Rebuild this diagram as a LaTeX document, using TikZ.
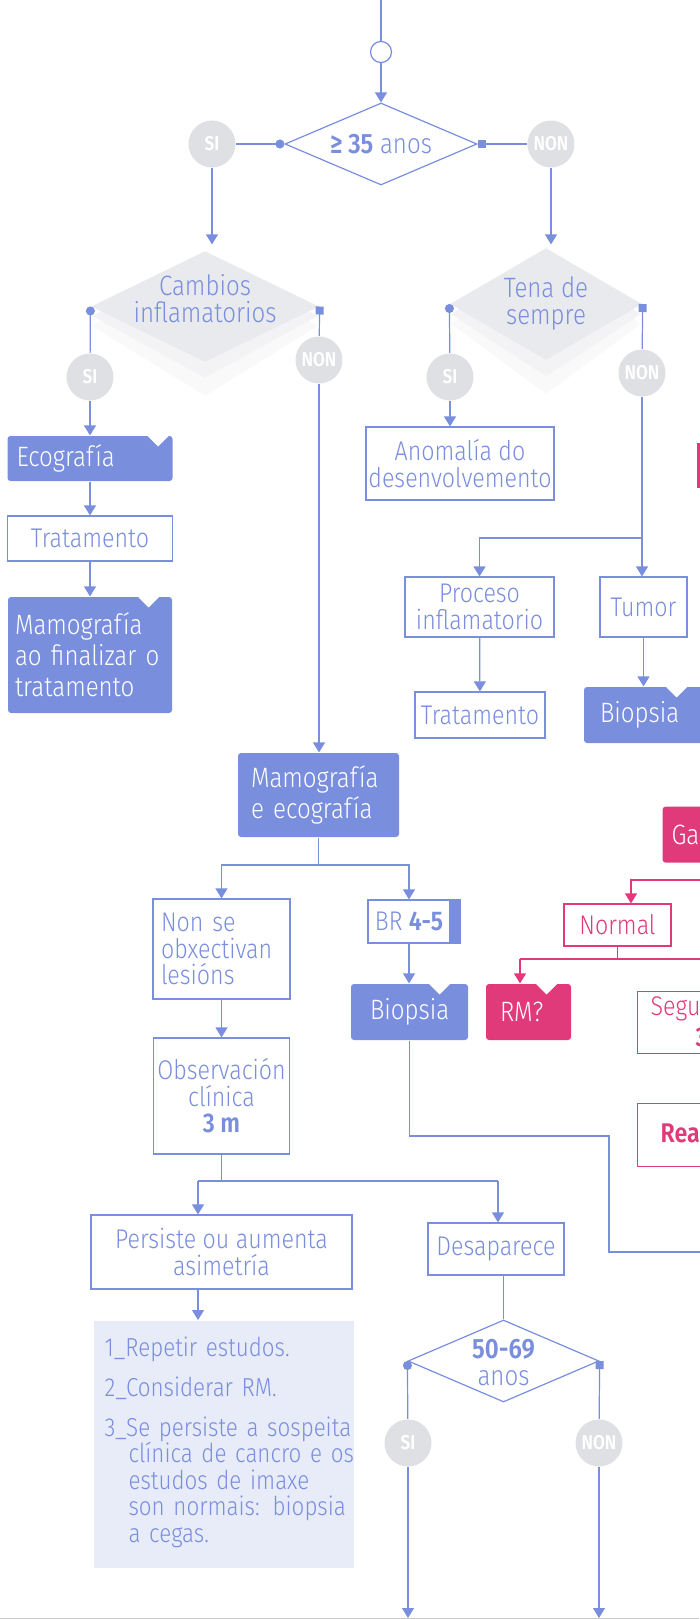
\documentclass[tikz,border=0pt]{standalone}
\usepackage{fontspec}
\setmainfont{Fira Sans}[UprightFont=* Light, BoldFont=* SemiBold, FakeStretch=0.86]
\usetikzlibrary{shapes.geometric}
\usetikzlibrary{arrows.meta}
\definecolor{bl}{HTML}{7A8EDE}
\definecolor{pk}{HTML}{E03A7A}
\definecolor{gr}{HTML}{DFE0E3}
\definecolor{dgr}{HTML}{E9EAED}
\definecolor{shd}{HTML}{F3F3F5}
\definecolor{shl}{HTML}{F9F9FA}
\definecolor{nt}{HTML}{E8ECF9}

\begin{document}
\begin{tikzpicture}[x=1pt, y=-1pt, line width=1.2pt, color=bl,
    >={Triangle[length=10pt, width=12pt]},
    dot/.style={arrows={{Circle[length=9pt]}-}},
    sq/.style={arrows={{Square[length=8pt]}-}},
    box/.style={rectangle, draw, fill=white, text=bl, inner sep=0pt, align=center,
        font=\fontsize{27}{26.5}\selectfont},
    fbox/.style={rectangle, fill=bl, rounded corners=3pt, text=white, inner ysep=0pt,
        align=left, font=\fontsize{28}{31}\selectfont},
    pbox/.style={box, draw=pk, text=pk},
    pfbox/.style={fbox, fill=pk},
    yn/.style={circle, fill=gr, text=white, inner sep=0pt, minimum size=47pt,
        font=\bfseries\fontsize{20}{20}\selectfont},
    dec/.style={diamond, inner sep=0pt},
    dtxt/.style={text=bl, align=center, font=\fontsize{28}{27}\selectfont}]
    \useasboundingbox (0,0) rectangle (699,1619);

    % first question
    \coordinate (top) at (381,0);
    \node[circle, draw, fill=white, minimum size=21pt, inner sep=0pt] (start) at (381,52) {};
    \node[dec, draw, fill=white, minimum width=192pt, minimum height=82pt] (d35) at (381,144) {};
    \node[dtxt] (d35txt) at (381,144) {\textbf{≥ 35} anos};
    \node[yn] (si1) at (212,144) {SI};
    \node[yn] (non1) at (551,144) {NON};
    \draw (top) -- (start);
    \draw[->] (start) -- (d35);
    \draw[dot] (d35.west) -- (si1);
    \draw[sq] (d35.east) -- (non1);

    % left question
    \node[dec, fill=shl, minimum width=226pt, minimum height=140pt] (cambiossh2) at (205,326) {};
    \node[dec, fill=shd, minimum width=226pt, minimum height=124pt] (cambiossh) at (205,316) {};
    \node[dec, fill=dgr, minimum width=228pt, minimum height=111pt] (cambios) at (205,306.5) {};
    \node[dtxt] (cambiostxt) at (205,298.5) {Cambios\\inflamatorios};
    \node[yn] (si2) at (90,377) {SI};
    \node[yn] (non2) at (319,360) {NON};
    \draw[->, shorten >=6pt] (si1) -- (si1 |- cambios.north);
    \draw[dot] (cambios.west) -- (si2);
    \draw[sq] (cambios.east) -- (non2);

    \node[fbox, text width=147pt, inner xsep=9pt, minimum height=45pt] (eco) at (90,458.5) {Ecografía};
    \fill[white] ([xshift=-26pt]eco.north east) -- ([xshift=-4pt]eco.north east) -- ([xshift=-15pt, yshift=-11pt]eco.north east) -- cycle;
    \node[box, minimum width=165pt, minimum height=45pt] (trat1) at (90,538.5) {Tratamento};
    \node[fbox, text width=150pt, inner xsep=7pt, minimum height=116pt] (mamo1) at (90,655) {Mamografía\\ao finalizar o\\tratamento};
    \fill[white] ([xshift=-35pt]mamo1.north east) -- ([xshift=-13pt]mamo1.north east) -- ([xshift=-24pt, yshift=-11pt]mamo1.north east) -- cycle;
    \draw[->] (si2) -- (si2 |- eco.north);
    \draw[->] (eco) -- (trat1);
    \draw[->] (trat1) -- (mamo1);

    % right question
    \node[dec, fill=shl, minimum width=190pt, minimum height=140pt] (tenash2) at (546,324) {};
    \node[dec, fill=shd, minimum width=190pt, minimum height=125pt] (tenash) at (546,314) {};
    \node[dec, fill=dgr, minimum width=192pt, minimum height=112pt] (tena) at (546,304) {};
    \node[dtxt] (tenatxt) at (546,303.5) {Tena de\\sempre};
    \node[yn] (si3) at (450,377) {SI};
    \node[yn] (non3) at (642,373) {NON};
    \draw[->, shorten >=3pt] (non1) -- (non1 |- tena.north);
    \draw[dot] (tena.west) -- (si3);
    \draw[sq] (tena.east) -- (non3);

    \node[box, minimum width=188pt, minimum height=73pt] (anom) at (460,463.5) {Anomalía do\\desenvolvemento};
    \node[box, minimum width=149pt, minimum height=60pt] (proc) at (479.5,607) {Proceso\\inflamatorio};
    \node[box, minimum width=87pt, minimum height=60pt] (tumor) at (643.5,607) {Tumor};
    \node[box, minimum width=130pt, minimum height=46pt] (trat2) at (480,715) {Tratamento};
    \node[fbox, text width=100pt, inner xsep=16pt, minimum height=56pt] (biop1) at (650,715) {Biopsia};
    \fill[white] ([xshift=-51pt]biop1.north east) -- ([xshift=-29pt]biop1.north east) -- ([xshift=-40pt, yshift=-11pt]biop1.north east) -- cycle;
    \coordinate (split1) at (642,538);
    \draw[->] (si3) -- (si3 |- anom.north);
    \draw[->] (non3) -- (non3 |- tumor.north);
    \draw[->] (split1) -| (proc);
    \draw[->] (proc) -- (trat2);
    \draw[->] (tumor) -- (tumor |- biop1.north);

    % mammography
    \node[fbox, text width=135pt, inner xsep=13pt, minimum height=84pt] (mamo2) at (318.5,795) {Mamografía\\e ecografía};
    \node[box, align=left, text width=121pt, inner xsep=8pt, minimum height=100pt] (nonse) at (221.5,949) {Non se\\obxectivan\\lesións};
    \node[box, minimum width=82pt, minimum height=43pt] (br) at (409,921.5) {BR \textbf{4-5}};
    \fill (br.north east) rectangle ([xshift=10pt]br.south east);
    \node[fbox, text width=79pt, inner xsep=19pt, minimum height=56pt] (biop2) at (409.5,1012) {Biopsia};
    \fill[white] ([xshift=-40pt]biop2.north east) -- ([xshift=-18pt]biop2.north east) -- ([xshift=-29pt, yshift=-11pt]biop2.north east) -- cycle;
    \coordinate (split2) at (318.5,865);
    \draw[->] (non2) -- (non2 |- mamo2.north);
    \draw (mamo2) -- (split2);
    \draw[->] (split2) -| (nonse);
    \draw[->] (split2) -| (br);
    \draw[->] (br) -- (br |- biop2.north);
    \coordinate (turn1) at (609,1136);
    \coordinate (out1) at (710,1252);
    \draw (biop2) |- (turn1) |- (out1);

    % observation
    \node[box, minimum width=136pt, minimum height=116pt] (obs) at (221.5,1096) {Observación\\clínica\\\textbf{3 m}};
    \node[box, minimum width=261pt, minimum height=74pt] (pers) at (221.5,1252) {Persiste ou aumenta\\asimetría};
    \node[box, minimum width=136pt, minimum height=52pt] (desap) at (496,1249) {Desaparece};
    \coordinate (split3) at (221.5,1181);
    \coordinate (left3) at (198,1181);
    \coordinate (right3) at (498,1181);
    \draw[->] (nonse) -- (obs);
    \draw (obs) -- (split3);
    \draw (left3) -- (right3);
    \draw[->] (left3) -- (left3 |- pers.north);
    \draw[->] (right3) -- (right3 |- desap.north);

    \node[fill=nt, minimum width=260pt, minimum height=247pt, inner sep=0pt, anchor=north west] (note) at (93,1320) {};
    \node[anchor=north west, inner sep=0pt, text width=232pt, align=left, text=bl,
        font=\fontsize{26}{26.5}\selectfont] (notetxt) at (104,1336) {%
        1\_Repetir estudos.\\[13.5pt]
        2\_Considerar RM.\\[13.5pt]
        \makebox[230pt][s]{3\_Se persiste a sospeita}\\
        \hspace*{24pt}\makebox[206pt][s]{clínica de cancro e os}\\
        \hspace*{24pt}\makebox[206pt][s]{estudos de imaxe}\\
        \hspace*{24pt}\makebox[206pt][s]{son normais: biopsia}\\
        \hspace*{24pt}a cegas.};
    \draw[->] (left3 |- pers.south) -- (left3 |- note.north);

    % last question
    \node[dec, draw, fill=white, minimum width=191pt, minimum height=82pt] (d50) at (503.5,1361) {};
    \node[dtxt] (d50txt) at (503.5,1363) {\textbf{50-69}\\anos};
    \node[yn] (si4) at (408,1443) {SI};
    \node[yn] (non4) at (599,1443) {NON};
    \coordinate (end1) at (408,1618);
    \coordinate (end2) at (599,1618);
    \draw (d50.north |- desap.south) -- (d50.north);
    \draw[dot] (d50.west) -- (si4);
    \draw[sq] (d50.east) -- (non4);
    \draw[->] (si4) -- (end1);
    \draw[->] (non4) -- (end2);

    % pink branch
    \node[fill=pk, minimum width=30pt, minimum height=45pt, inner sep=0pt, anchor=north west] (pkbox) at (696,442) {};
    \node[pfbox, text width=60pt, inner xsep=9pt, minimum height=56pt, anchor=north west] (ga) at (662,806) {Ga};
    \node[pbox, minimum width=107pt, minimum height=42pt] (normal) at (617.5,925) {Normal};
    \node[pfbox, text width=57pt, inner xsep=14pt, minimum height=56pt] (rm) at (528.5,1012) {RM?};
    \fill[white] ([xshift=-36pt]rm.north east) -- ([xshift=-14pt]rm.north east) -- ([xshift=-25pt, yshift=-11pt]rm.north east) -- cycle;
    \node[pbox, minimum width=100pt, minimum height=62pt, anchor=north west] (segu) at (637,991) {};
    \node[anchor=west, text=pk, inner sep=0pt, font=\fontsize{27}{27}\selectfont] (segutxt) at (650,1009) {Segu};
    \node[anchor=west, text=pk, inner sep=0pt, font=\bfseries\fontsize{27}{27}\selectfont] (segu3) at (695,1037) {3};
    \node[pbox, minimum width=100pt, minimum height=63pt, anchor=north west] (rea) at (637,1103) {};
    \node[anchor=west, text=pk, inner sep=0pt, font=\bfseries\fontsize{27}{27}\selectfont] (reatxt) at (660,1133) {Rea};
    \coordinate (pk1) at (710,880);
    \coordinate (pk2) at (631,880);
    \coordinate (pk3) at (617.5,959);
    \coordinate (pk4) at (520,959);
    \coordinate (pk5) at (710,959);
    \draw[pk, ->] (pk1) -- (pk2) -- (pk2 |- normal.north);
    \draw[pk] (normal) -- (pk3);
    \draw[pk] (pk5) -- (pk4);
    \draw[pk, ->] (pk4) -- (pk4 |- rm.north);

    \draw[black!22, line width=1.5pt] (0,1618.5) -- (699,1618.5);
\end{tikzpicture}
\end{document}
